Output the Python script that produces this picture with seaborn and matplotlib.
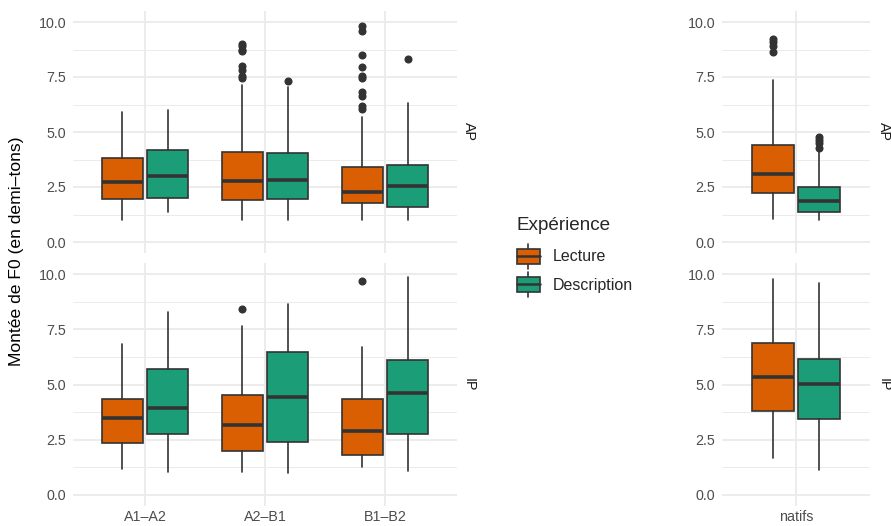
import matplotlib
matplotlib.use("Agg")
import matplotlib.pyplot as plt
from matplotlib.legend_handler import HandlerBase
from matplotlib.patches import Patch, Rectangle
from matplotlib.lines import Line2D
from matplotlib.ticker import MultipleLocator, FormatStrFormatter
import pandas as pd
import seaborn as sns

# data
groupes = ["A1–A2", "A2–B1", "B1–B2", "natifs"]
experiences = ["Lecture", "Description"]
prosodies = ["AP", "IP"]

ap_lecture_low = [1.02, 1.02, 1.02, 1.03]
ap_lecture_q1 = [1.97, 1.89, 1.76, 2.25]
ap_lecture_med = [2.71, 2.79, 2.29, 3.11]
ap_lecture_q3 = [3.82, 4.09, 3.39, 4.40]
ap_lecture_high = [5.89, 7.14, 5.68, 7.36]
ap_lecture_out = [[], [9.0, 8.9, 8.75, 8.7, 7.98, 7.83, 7.56, 7.45],
                  [9.83, 9.6, 8.5, 7.95, 7.56, 7.44, 6.8, 6.65, 6.17, 6.06],
                  [9.21, 9.09, 8.91, 8.63]]

ap_descr_low = [1.38, 1.02, 1.02, 1.02]
ap_descr_q1 = [2.0, 1.95, 1.61, 1.38]
ap_descr_med = [3.02, 2.82, 2.56, 1.87]
ap_descr_q3 = [4.20, 4.05, 3.52, 2.50]
ap_descr_high = [5.98, 7.05, 6.30, 4.13]
ap_descr_out = [[], [7.30], [8.32], [4.76, 4.63, 4.48, 4.28]]

ip_lecture_low = [1.19, 1.03, 1.27, 1.68]
ip_lecture_q1 = [2.34, 1.99, 1.81, 3.82]
ip_lecture_med = [3.49, 3.16, 2.90, 5.35]
ip_lecture_q3 = [4.34, 4.53, 4.35, 6.90]
ip_lecture_high = [6.83, 7.66, 6.69, 9.77]
ip_lecture_out = [[], [8.43], [9.67], []]

ip_descr_low = [1.03, 1.0, 1.09, 1.12]
ip_descr_q1 = [2.78, 2.40, 2.75, 3.46]
ip_descr_med = [3.94, 4.44, 4.61, 5.02]
ip_descr_q3 = [5.71, 6.45, 6.13, 6.15]
ip_descr_high = [8.26, 8.64, 9.88, 9.59]
ip_descr_out = [[], [], [], []]

COLORS = {"Lecture": "#D95F02", "Description": "#1B9E77"}
OFFSET = {"Lecture": -0.19, "Description": 0.19}
EDGE = "#333333"
GRID = "#EBEBEB"


def build_stats():
    rows = []
    tables = {
        ("AP", "Lecture"): (ap_lecture_low, ap_lecture_q1, ap_lecture_med, ap_lecture_q3, ap_lecture_high, ap_lecture_out),
        ("AP", "Description"): (ap_descr_low, ap_descr_q1, ap_descr_med, ap_descr_q3, ap_descr_high, ap_descr_out),
        ("IP", "Lecture"): (ip_lecture_low, ip_lecture_q1, ip_lecture_med, ip_lecture_q3, ip_lecture_high, ip_lecture_out),
        ("IP", "Description"): (ip_descr_low, ip_descr_q1, ip_descr_med, ip_descr_q3, ip_descr_high, ip_descr_out),
    }
    for (pros, exp), (lo, q1, med, q3, hi, out) in tables.items():
        for i, g in enumerate(groupes):
            rows.append(dict(prosodie=pros, experience=exp, groupe=g,
                             whislo=lo[i], q1=q1[i], med=med[i], q3=q3[i],
                             whishi=hi[i], fliers=out[i]))
    return pd.DataFrame(rows)


class BoxKey(HandlerBase):
    # legend key drawn like a small boxplot
    def create_artists(self, legend, orig_handle, xdescent, ydescent,
                       width, height, fontsize, trans):
        cx = -xdescent + width / 2
        y0 = -ydescent
        top = y0 + height * 0.78
        bot = y0 + height * 0.22
        mid = (top + bot) / 2
        wl = Line2D([cx, cx], [y0, y0 + height], color=EDGE, lw=1.2, transform=trans)
        rect = Rectangle((-xdescent, bot), width, top - bot,
                         facecolor=orig_handle.get_facecolor(), edgecolor=EDGE,
                         lw=1.2, transform=trans)
        med = Line2D([-xdescent, -xdescent + width], [mid, mid], color=EDGE,
                     lw=1.8, transform=trans)
        return [wl, rect, med]


def draw_panel(ax, df, pros, cats, show_x):
    sub = df[(df.prosodie == pros) & (df.groupe.isin(cats))]
    for exp in experiences:
        d = sub[sub.experience == exp]
        stats = []
        pos = []
        for _, r in d.iterrows():
            stats.append(dict(whislo=r.whislo, q1=r.q1, med=r.med, q3=r.q3,
                              whishi=r.whishi, fliers=list(r.fliers)))
            pos.append(cats.index(r.groupe) + OFFSET[exp])
        ax.bxp(stats, positions=pos, widths=0.34, patch_artist=True,
               showcaps=False, manage_ticks=False,
               boxprops=dict(facecolor=COLORS[exp], edgecolor=EDGE, linewidth=1.2),
               medianprops=dict(color=EDGE, linewidth=2.6, solid_capstyle="butt"),
               whiskerprops=dict(color=EDGE, linewidth=1.2),
               flierprops=dict(marker="o", markerfacecolor=EDGE,
                               markeredgecolor=EDGE, markersize=4.8))
    ax.set_xlim(-0.6, len(cats) - 0.4)
    ax.set_ylim(-0.5, 10.5)
    ax.set_xticks(range(len(cats)))
    ax.set_xticklabels(cats if show_x else [""] * len(cats))
    ax.yaxis.set_major_locator(MultipleLocator(2.5))
    ax.yaxis.set_minor_locator(MultipleLocator(1.25))
    ax.yaxis.set_major_formatter(FormatStrFormatter("%.1f"))
    ax.grid(which="major", color=GRID, lw=1.3)
    ax.grid(which="minor", axis="y", color=GRID, lw=0.7)
    ax.set_axisbelow(True)
    ax.set_facecolor("white")
    for s in ax.spines.values():
        s.set_visible(False)
    ax.tick_params(which="both", length=0, labelsize=10.3, labelcolor="#4D4D4D")
    ax.tick_params(axis="y", pad=5)
    ax.tick_params(axis="x", pad=3)
    ax.set_xlabel("")
    ax.set_ylabel("")


def main():
    sns.set_theme(style="whitegrid")
    plt.rcParams['font.family'] = ['Liberation Sans', 'DejaVu Sans']
    df = build_stats()

    W, H = 891, 526
    fig = plt.figure(figsize=(W / 100, H / 100), dpi=100)
    fig.patch.set_facecolor("white")

    def axes_px(x0, x1, y0, y1):
        return fig.add_axes([x0 / W, 1 - y1 / H, (x1 - x0) / W, (y1 - y0) / H])

    left_cats = groupes[:3]
    right_cats = groupes[3:]
    panels = [
        (axes_px(73, 457, 11, 253), "AP", left_cats, False, 469),
        (axes_px(73, 457, 263, 506), "IP", left_cats, True, 469),
        (axes_px(722, 870, 11, 253), "AP", right_cats, False, 884),
        (axes_px(722, 870, 263, 506), "IP", right_cats, True, 884),
    ]
    for ax, pros, cats, show_x, sx in panels:
        draw_panel(ax, df, pros, cats, show_x)
        pos = ax.get_position()
        fig.text(sx / W, pos.y0 + pos.height / 2, pros, rotation=-90,
                 ha="center", va="center", fontsize=10.3, color="#1A1A1A")

    fig.text(17 / W, 1 - 251 / H, "Montée de F0 (en demi–tons)", rotation=90,
             ha="center", va="center", fontsize=12.6, color="black")

    handles = [Patch(facecolor=COLORS[e], edgecolor=EDGE) for e in experiences]
    leg = fig.legend(handles, experiences, title="Expérience",
                     handler_map={Patch: BoxKey()},
                     loc="upper left", bbox_to_anchor=(512 / W, 1 - 212 / H),
                     frameon=False, fontsize=11.5, title_fontsize=13.6,
                     handlelength=1.45, handleheight=2.1, labelspacing=0.15,
                     handletextpad=0.8, borderaxespad=0, borderpad=0.3)
    leg._legend_box.align = "left"
    leg._legend_box.sep = 7

    fig.savefig("out.png", dpi=100, facecolor="white")


if __name__ == "__main__":
    main()
